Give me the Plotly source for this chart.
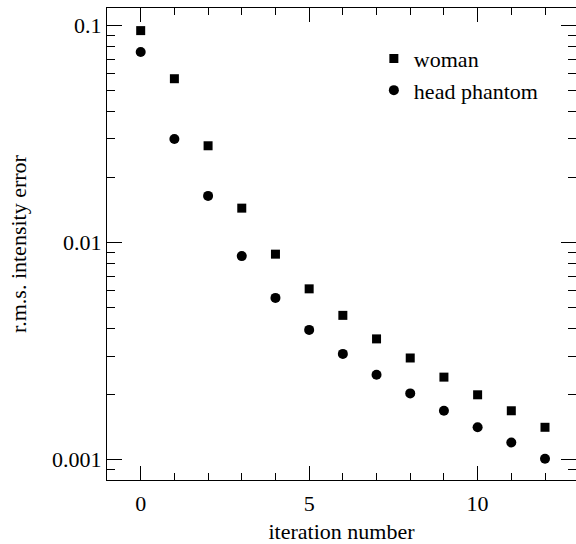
import plotly.graph_objects as go

# iteration number
iterations = list(range(13))

# r.m.s. intensity error
woman = [0.0946, 0.0568, 0.0279, 0.0144, 0.00884, 0.00612, 0.00462,
         0.00360, 0.00294, 0.00240, 0.00199, 0.00168, 0.00141]
head_phantom = [0.0754, 0.0300, 0.0164, 0.00866, 0.00556, 0.00396, 0.00307,
                0.00246, 0.00202, 0.00168, 0.00141, 0.00120, 0.00101]

y_major = [0.001, 0.01, 0.1]
y_major_text = ["0.001", "0.01", "0.1"]
y_minor = [m * 10.0 ** e for e in (-4, -3, -2) for m in range(2, 10)]

FONT = "Liberation Serif"
ylo, yhi = -3.0935, -0.920

fig = go.Figure()
fig.add_trace(go.Scatter(x=iterations, y=woman, mode="markers", name="woman",
                         marker=dict(symbol="square", size=9, color="black")))
fig.add_trace(go.Scatter(x=iterations, y=head_phantom, mode="markers",
                         name="head phantom",
                         marker=dict(symbol="circle", size=10, color="black")))
# empty trace so the right-hand tick axis gets drawn
fig.add_trace(go.Scatter(x=[None], y=[None], yaxis="y2", showlegend=False,
                         hoverinfo="skip"))

fig.update_layout(
    width=576, height=544,
    margin=dict(l=107, r=0, t=8, b=64),
    paper_bgcolor="white", plot_bgcolor="white",
    font=dict(family=FONT, size=22, color="black"),
    showlegend=True,
    legend=dict(x=0.569, y=0.937, xanchor="left", yanchor="top",
                bgcolor="rgba(0,0,0,0)", font=dict(family=FONT, size=22),
                itemwidth=30, tracegroupgap=0),
    xaxis=dict(range=[-1, 12.92], showgrid=False, zeroline=False,
               automargin=False,
               showline=True, linecolor="black", linewidth=1,
               mirror="ticks", ticks="inside", ticklen=14, tickwidth=1,
               tickcolor="black", tickvals=[0, 5, 10],
               ticktext=["0", "5", "10"], ticklabelstandoff=4,
               tickfont=dict(family=FONT, size=22),
               minor=dict(ticks="inside", ticklen=7, tickwidth=1,
                          tickcolor="black", dtick=1, showgrid=False),
               title=dict(text="iteration number", standoff=8,
                          font=dict(family=FONT, size=22))),
    yaxis=dict(type="log", range=[ylo, yhi], showgrid=False, zeroline=False,
               automargin=False,
               showline=True, linecolor="black", linewidth=1, mirror=False,
               ticks="inside", ticklen=15, tickwidth=1, tickcolor="black",
               tickmode="array", tickvals=y_major, ticktext=y_major_text,
               tickfont=dict(family=FONT, size=22),
               minor=dict(ticks="inside", ticklen=8, tickwidth=1,
                          tickcolor="black", tickmode="array",
                          tickvals=y_minor, showgrid=False),
               title=dict(text="r.m.s. intensity error", standoff=19,
                          font=dict(family=FONT, size=22))),
    yaxis2=dict(type="log", range=[ylo, yhi], overlaying="y", side="right",
                automargin=False,
                showgrid=False, zeroline=False, showline=False,
                showticklabels=False, ticks="inside", ticklen=15,
                tickwidth=1, tickcolor="black", tickmode="array",
                tickvals=y_major,
                minor=dict(ticks="inside", ticklen=8, tickwidth=1,
                           tickcolor="black", tickmode="array",
                           tickvals=y_minor, showgrid=False)),
)

fig.write_html("out.html", config={"displayModeBar": False},
               post_script="document.body.style.margin='0';")
